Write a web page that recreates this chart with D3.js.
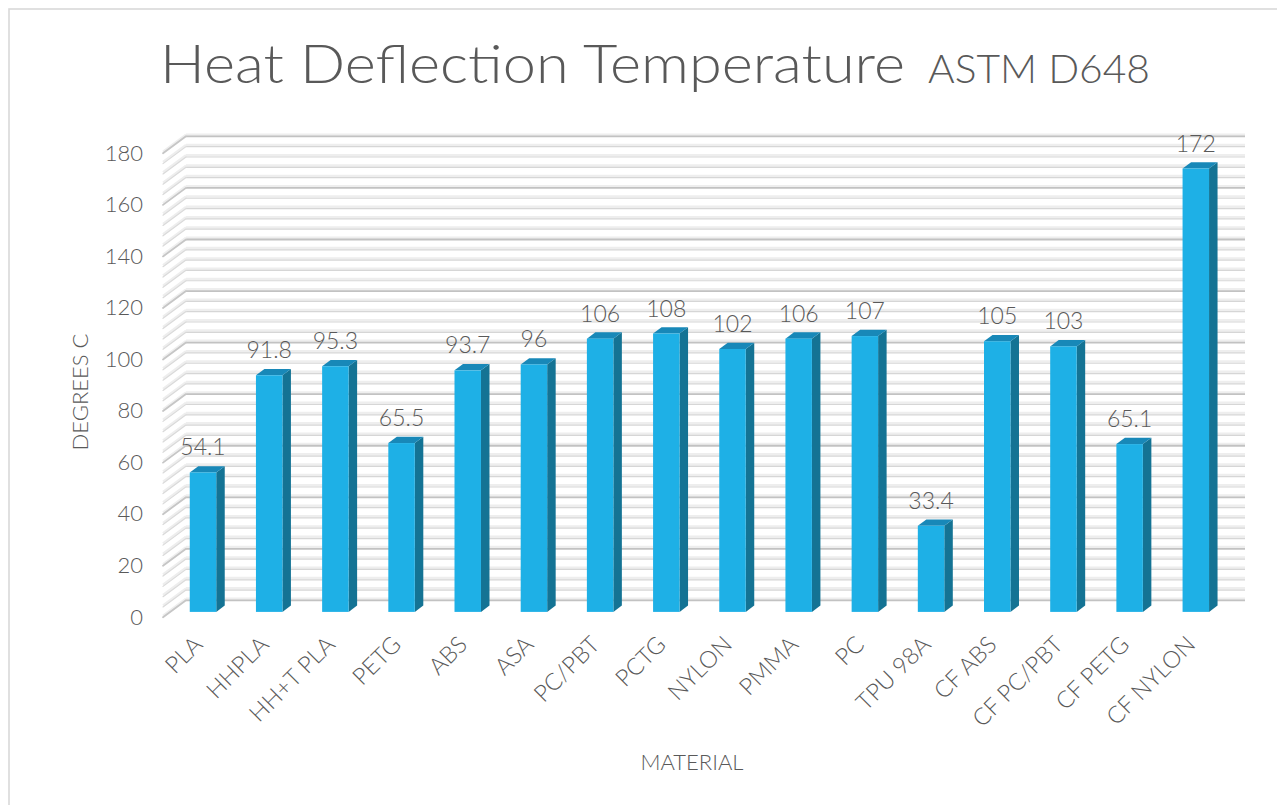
<!DOCTYPE html>
<html>
<head>
<meta charset="utf-8">
<script src="https://cdn.jsdelivr.net/npm/d3@7"></script>
<style>
  html, body { margin: 0; padding: 0; background: #ffffff; }
  svg { display: block; }
  text { font-family: "Century Gothic", "Lato", "Noto Sans", sans-serif; font-weight: 300; fill: #595959; }
</style>
</head>
<body>
<svg id="chart" width="1277" height="805"></svg>
<script>
// Heat deflection temperature per material (°C, ASTM D648)
const categories = ["PLA", "HHPLA", "HH+T PLA", "PETG", "ABS", "ASA", "PC/PBT", "PCTG",
                    "NYLON", "PMMA", "PC", "TPU 98A", "CF ABS", "CF PC/PBT", "CF PETG", "CF NYLON"];
const hdtValues = [54.1, 91.8, 95.3, 65.5, 93.7, 96, 106, 108, 102, 106, 107, 33.4, 105, 103, 65.1, 172];
const yTicks = [0, 20, 40, 60, 80, 100, 120, 140, 160, 180];
const yMinorStep = 4;
const titleMain = "Heat Deflection Temperature";
const titleSub = "ASTM D648";
const yAxisTitle = "DEGREES C";
const xAxisTitle = "MATERIAL";

const svg = d3.select("#chart");

// chart area frame
svg.append("rect")
  .attr("x", 9).attr("y", 9)
  .attr("width", 1400).attr("height", 1000)
  .attr("fill", "none")
  .attr("stroke", "#d9d9d9")
  .attr("stroke-width", 1.6);

// oblique 3D projection: front plane + a depth vector toward the back wall
const DX = 23, DY = -17;
const x = d3.scaleBand().domain(categories).range([163, 1222]).paddingInner(0.6).paddingOuter(0.3);
const y = d3.scaleLinear().domain([0, 180]).range([617, 153]);
const P = (px, v, d) => [px + d * DX, y(v) + d * DY];

const gridVals = d3.range(0, 180 + 0.001, yMinorStep);
const isMajor = v => v % 20 === 0;

const grid = svg.append("g").attr("class", "walls");

// back wall gridlines
gridVals.forEach(v => {
  const a = P(163, v, 1), b = P(1222, v, 1);
  grid.append("line")
    .attr("x1", a[0]).attr("y1", a[1] - 1.3).attr("x2", b[0]).attr("y2", b[1] - 1.3)
    .attr("stroke", "#eeeeee").attr("stroke-width", 2.6);
  grid.append("line")
    .attr("x1", a[0]).attr("y1", a[1] + 0.4).attr("x2", b[0]).attr("y2", b[1] + 0.4)
    .attr("stroke", isMajor(v) ? "#c2c2c2" : "#d6d6d6")
    .attr("stroke-width", isMajor(v) ? 1.8 : 1.2);
});

// side wall gridlines
gridVals.forEach(v => {
  const a = P(163, v, 0), b = P(163, v, 1);
  grid.append("line")
    .attr("x1", a[0]).attr("y1", a[1] - 1.3).attr("x2", b[0]).attr("y2", b[1] - 1.3)
    .attr("stroke", "#eeeeee").attr("stroke-width", 2.4);
  grid.append("line")
    .attr("x1", a[0]).attr("y1", a[1] + 0.3).attr("x2", b[0]).attr("y2", b[1] + 0.3)
    .attr("stroke", isMajor(v) ? "#c6c6c6" : "#dadada")
    .attr("stroke-width", isMajor(v) ? 1.8 : 1.2)
    .attr("stroke-linecap", "round");
});

// 3D columns
const F0 = 0.3, BD = 0.37;
const w = x.bandwidth();
const ddx = BD * DX, ddy = BD * DY;
const data = categories.map((c, i) => ({ c, v: hdtValues[i] }));

const bars = svg.append("g").attr("class", "bars")
  .selectAll("g").data(data).join("g");

bars.each(function (d) {
  const g = d3.select(this);
  const bx = x(d.c) + F0 * DX;
  const yb = y(0) + F0 * DY;
  const yt = y(d.v) + F0 * DY;
  g.append("polygon")
    .attr("points", [[bx + w, yt], [bx + w + ddx, yt + ddy], [bx + w + ddx, yb + ddy], [bx + w, yb]].join(" "))
    .attr("fill", "#147394");
  g.append("polygon")
    .attr("points", [[bx, yt], [bx + w, yt], [bx + w + ddx, yt + ddy], [bx + ddx, yt + ddy]].join(" "))
    .attr("fill", "#1888b8");
  g.append("rect")
    .attr("x", bx).attr("y", yt)
    .attr("width", w).attr("height", yb - yt)
    .attr("fill", "#1eb0e6");
  g.append("text")
    .attr("x", bx + w / 2).attr("y", yt - 17)
    .attr("text-anchor", "middle")
    .attr("font-size", 23)
    .text(d.v);
});

// value axis labels on the front plane
const yAxis = svg.append("g")
  .attr("transform", "translate(163,0)")
  .call(d3.axisLeft(y).tickValues(yTicks).tickSize(0).tickPadding(20));
yAxis.select(".domain").remove();
yAxis.selectAll("text")
  .attr("font-size", 22)
  .attr("font-family", null)
  .attr("fill", null);

// category labels, rotated
const xAxis = svg.append("g")
  .attr("transform", `translate(${F0 * DX + 1},646)`)
  .call(d3.axisBottom(x).tickSize(0));
xAxis.select(".domain").remove();
xAxis.selectAll("text")
  .attr("font-size", 23.5)
  .attr("font-family", null)
  .attr("fill", null)
  .attr("y", 0).attr("dy", 0)
  .attr("text-anchor", "end")
  .attr("transform", "rotate(-45)");

// axis titles
svg.append("text")
  .attr("transform", "translate(88,392) rotate(-90)")
  .attr("text-anchor", "middle")
  .attr("font-size", 22)
  .text(yAxisTitle);

svg.append("text")
  .attr("x", 692).attr("y", 770)
  .attr("text-anchor", "middle")
  .attr("font-size", 22)
  .text(xAxisTitle);

// chart title
svg.append("text")
  .attr("x", 160).attr("y", 83)
  .attr("font-size", 53)
  .attr("textLength", 745)
  .attr("lengthAdjust", "spacingAndGlyphs")
  .text(titleMain);
svg.append("text")
  .attr("x", 928).attr("y", 83)
  .attr("font-size", 39)
  .attr("textLength", 222)
  .attr("lengthAdjust", "spacingAndGlyphs")
  .text(titleSub);
</script>
</body>
</html>
